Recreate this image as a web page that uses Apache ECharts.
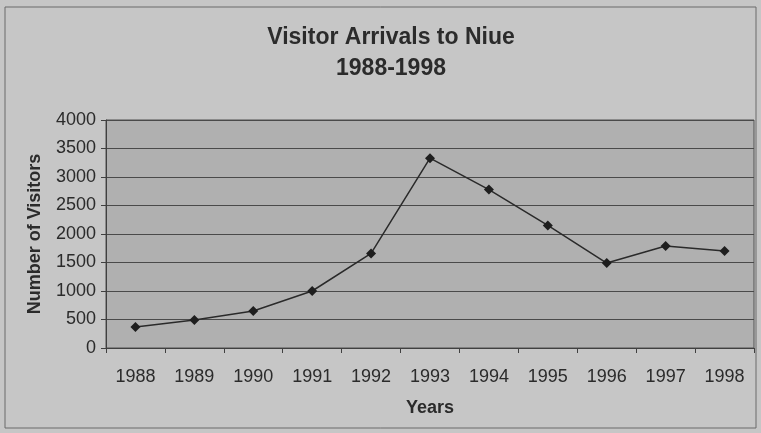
<!DOCTYPE html>
<html>
<head>
<meta charset="utf-8">
<script src="https://cdn.jsdelivr.net/npm/echarts@6/dist/echarts.min.js"></script>
<style>
  html, body { margin: 0; padding: 0; background: #c6c6c6; }
  #chart { width: 761px; height: 433px; }
</style>
</head>
<body>
<div id="chart"></div>
<script>
// data
const years = ['1988', '1989', '1990', '1991', '1992', '1993', '1994', '1995', '1996', '1997', '1998']
const visitors = [370, 490, 650, 1000, 1660, 3330, 2780, 2150, 1490, 1790, 1700]

const textColor = '#2b2b2b'
const fontFamily = '"Liberation Sans", Arial, sans-serif'

const chart = echarts.init(document.getElementById('chart'))

const option = {
  backgroundColor: '#c6c6c6',
  animation: false,
  graphic: [
    {
      // frame round the whole chart
      type: 'rect',
      shape: { x: 5, y: 7, width: 751, height: 421 },
      style: { fill: 'none', stroke: '#6a6a6a', lineWidth: 1 },
      silent: true
    }
  ],
  title: {
    text: 'Visitor Arrivals to Niue\n1988-1998',
    left: 386,
    top: 17,
    textAlign: 'center',
    textStyle: {
      fontFamily: fontFamily,
      fontSize: 23,
      fontWeight: 'bold',
      color: textColor,
      lineHeight: 31
    }
  },
  grid: {
    left: 106,
    right: 7,
    top: 120,
    bottom: 85,
    show: true,
    backgroundColor: '#b0b0b0',
    borderColor: '#505050',
    borderWidth: 1
  },
  xAxis: {
    type: 'category',
    data: years,
    boundaryGap: true,
    name: 'Years',
    nameLocation: 'middle',
    nameGap: 51,
    nameTextStyle: {
      fontFamily: fontFamily,
      fontSize: 18,
      fontWeight: 'bold',
      color: textColor
    },
    axisLine: { lineStyle: { color: '#404040', width: 1 } },
    axisTick: { show: true, length: 5, lineStyle: { color: '#404040' } },
    axisLabel: {
      fontFamily: fontFamily,
      fontSize: 18,
      color: textColor,
      margin: 20,
      interval: 0
    }
  },
  yAxis: {
    type: 'value',
    min: 0,
    max: 4000,
    interval: 500,
    name: 'Number of Visitors',
    nameLocation: 'middle',
    nameGap: 62,
    nameRotate: 90,
    nameTextStyle: {
      fontFamily: fontFamily,
      fontSize: 18,
      fontWeight: 'bold',
      color: textColor
    },
    axisLine: { show: true, lineStyle: { color: '#404040', width: 1 } },
    axisTick: { show: true, length: 5, lineStyle: { color: '#404040' } },
    axisLabel: {
      fontFamily: fontFamily,
      fontSize: 18,
      color: textColor,
      margin: 10,
      formatter: (v) => String(v)
    },
    splitLine: { show: true, lineStyle: { color: '#4a4a4a', width: 1 } }
  },
  series: [
    {
      type: 'line',
      data: visitors,
      symbol: 'diamond',
      symbolSize: 10,
      lineStyle: { color: '#2a2a2a', width: 1.5 },
      itemStyle: { color: '#1e1e1e' }
    }
  ]
}

chart.setOption(option)
</script>
</body>
</html>
